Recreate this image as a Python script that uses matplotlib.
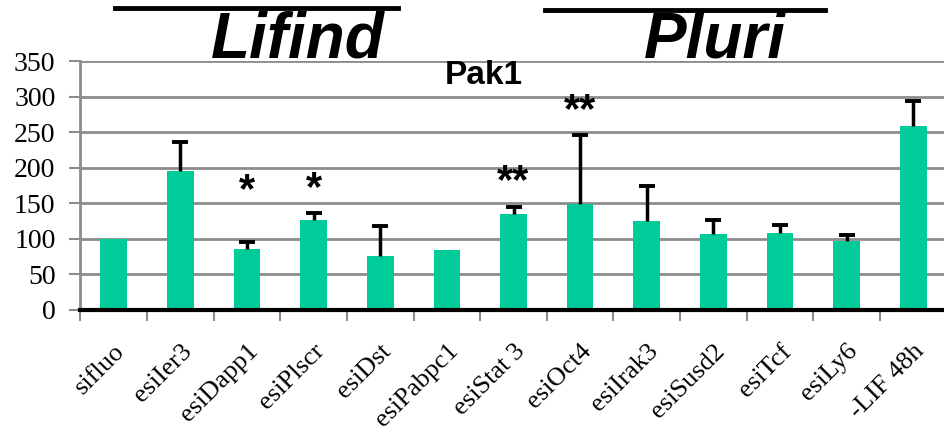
import matplotlib.pyplot as plt
import numpy as np

# data
labels = ['sifluo', 'esiIer3', 'esiDapp1', 'esiPlscr', 'esiDst', 'esiPabpc1',
          'esiStat 3', 'esiOct4', 'esiIrak3', 'esiSusd2', 'esiTcf', 'esiLy6', '-LIF 48h']
values = [100, 195, 85, 126, 75, 84, 134, 149, 124, 106, 108, 97, 258]
errors = [0, 41, 10, 10, 42, 0, 11, 97, 50, 20, 11, 8, 35]

# significance marks: (bar index, y position, text)
star_idx = [2, 3, 6, 7]
star_y = [167, 170, 180, 279]
star_txt = ['*', '*', '**', '**']

bar_color = '#00CC99'
grid_color = '#8C8C8C'
serif = 'Liberation Serif'
sans = 'Liberation Sans'

fig = plt.figure(figsize=(9.45, 4.3), dpi=100)
ax = fig.add_axes([80.5 / 945, 1 - 309.5 / 430, 866 / 945, 248.5 / 430])

x = np.arange(len(labels))
ax.bar(x, values, width=0.4, color=bar_color, zorder=3)

# upward-only error bars
for i, (v, e) in enumerate(zip(values, errors)):
    if e > 0:
        ax.vlines(i, v, v + e, color='black', linewidth=2.5, zorder=4)
        ax.plot(i, v + e, marker='_', markersize=11, markeredgewidth=2.8,
                color='black', zorder=4)

ax.set_xlim(-0.5, len(labels) - 0.5)
ax.set_ylim(0, 350)
ax.set_yticks(range(0, 351, 50))
ax.yaxis.grid(True, color=grid_color, linewidth=2)
ax.set_axisbelow(True)

# ticks between categories
ax.set_xticks(x)
ax.set_xticks(np.arange(-0.5, len(labels), 1), minor=True)
ax.tick_params(axis='x', which='major', length=0, pad=22)
ax.tick_params(axis='x', which='minor', length=8, width=1.5, color=grid_color, direction='out')
ax.tick_params(axis='y', length=8, width=1.5, color=grid_color, pad=10)
ax.set_xticklabels(labels, rotation=45, ha='right', rotation_mode='anchor',
                   fontsize=19, family=serif)
for t in ax.get_yticklabels():
    t.set_fontsize(20)
    t.set_family(serif)

for s in ['top', 'right']:
    ax.spines[s].set_visible(False)
ax.spines['left'].set_color(grid_color)
ax.spines['left'].set_linewidth(2)
ax.spines['bottom'].set_color('black')
ax.spines['bottom'].set_linewidth(3)
ax.spines['bottom'].set_zorder(5)

for i, yv, t in zip(star_idx, star_y, star_txt):
    ax.text(i, yv, t, ha='center', va='center', fontsize=30, fontweight='bold', family=sans)

# titles and group labels
fig.text(484 / 945, 1 - 75 / 430, 'Pak1', ha='center', va='center',
         fontsize=24, fontweight='bold', family=sans)
fig.text(298 / 945, 1 - 40 / 430, 'Lifind', ha='center', va='center',
         fontsize=46, fontweight='bold', style='italic', family=sans)
fig.text(715 / 945, 1 - 40 / 430, 'Pluri', ha='center', va='center',
         fontsize=46, fontweight='bold', style='italic', family=sans)
fig.add_artist(plt.Line2D([115 / 945, 398 / 945], [1 - 8 / 430] * 2, color='black', linewidth=3.5))
fig.add_artist(plt.Line2D([545 / 945, 825 / 945], [1 - 10 / 430] * 2, color='black', linewidth=3.5))

fig.savefig('out.png', dpi=100)
